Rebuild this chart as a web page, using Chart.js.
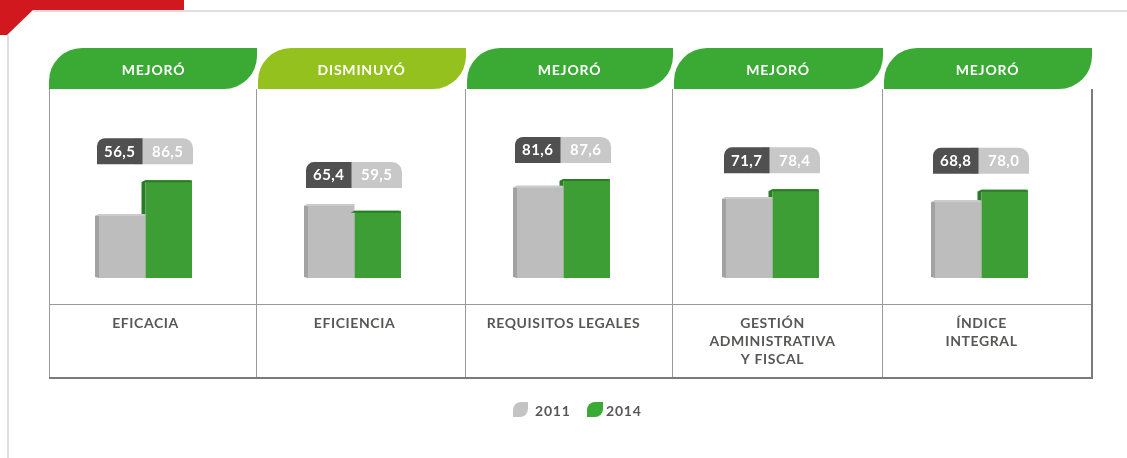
<!DOCTYPE html>
<html>
<head>
<meta charset="utf-8">
<script src="https://cdn.jsdelivr.net/npm/chart.js@4"></script>
<style>
  html, body { margin: 0; padding: 0; background: #fff; }
  #wrap { width: 1127px; height: 458px; }
</style>
</head>
<body>
<div id="wrap"><canvas id="indicadores" width="1127" height="458"></canvas></div>
<script>
// data
const categories = [['EFICACIA'], ['EFICIENCIA'], ['REQUISITOS LEGALES'], ['GESTIÓN', 'ADMINISTRATIVA', 'Y FISCAL'], ['ÍNDICE', 'INTEGRAL']];
const years = ['2011', '2014'];
const values2011 = [56.5, 65.4, 81.6, 71.7, 68.8];
const values2014 = [86.5, 59.5, 87.6, 78.4, 78.0];
const status = ['MEJORÓ', 'DISMINUYÓ', 'MEJORÓ', 'MEJORÓ', 'MEJORÓ'];

// colours
const grayFace = '#bdbdbd', graySide = '#a2a2a2', grayTop = '#cbcbcb';
const greenFace = '#3c9e35', greenSide = '#2a7b25';
const tabGreen = '#3aaa35', tabLime = '#95c11f';
const textGray = '#575756';
const FONT = 'Lato, "Open Sans", sans-serif';

// panel edges of the table frame (decoration)
const edges = [49, 256, 465, 672, 882, 1091];

function fmt(v) { return v.toFixed(1).replace('.', ','); }

// leaf shape: rounded top-left and bottom-right
function leaf(ctx, x, y, w, h, r) {
  ctx.beginPath();
  ctx.moveTo(x, y + h);
  ctx.lineTo(x, y + r);
  ctx.ellipse(x + r, y + r, r, r, 0, Math.PI, Math.PI * 1.5);
  ctx.lineTo(x + w, y);
  ctx.lineTo(x + w, y + h - r);
  ctx.ellipse(x + w - r, y + h - r, r, r, 0, 0, Math.PI * 0.5);
  ctx.closePath();
}

const decoPlugin = {
  id: 'deco',
  beforeDraw(chart) {
    const ctx = chart.ctx;
    ctx.save();
    ctx.fillStyle = '#fff';
    ctx.fillRect(0, 0, chart.width, chart.height);

    // red corner + page frame
    ctx.fillStyle = '#d2181f';
    ctx.beginPath();
    ctx.moveTo(0, 0); ctx.lineTo(184, 0); ctx.lineTo(184, 10);
    ctx.lineTo(33, 10); ctx.lineTo(7, 35); ctx.lineTo(0, 35);
    ctx.closePath(); ctx.fill();
    ctx.fillStyle = '#dedede';
    ctx.fillRect(33, 10, chart.width - 33, 2);
    ctx.fillRect(7, 35, 2, chart.height - 35);

    // table lines
    ctx.fillStyle = '#9a9a9a';
    for (let i = 0; i < edges.length - 1; i++) {
      ctx.fillRect(edges[i], 89, 1, 289);
    }
    ctx.fillRect(edges[0], 304, edges[5] - edges[0], 1);
    ctx.fillStyle = '#7a7a7a';
    ctx.fillRect(edges[0], 377, edges[5] - edges[0] + 2, 2);
    ctx.fillRect(edges[5], 89, 2, 290);

    // header tabs
    ctx.font = 'bold 14px ' + FONT;
    ctx.letterSpacing = '0.8px';
    ctx.textAlign = 'center';
    ctx.textBaseline = 'middle';
    for (let i = 0; i < status.length; i++) {
      const x0 = edges[i] + (i ? 2 : 0), x1 = edges[i + 1] + 1;
      ctx.fillStyle = status[i] === 'MEJORÓ' ? tabGreen : tabLime;
      leaf(ctx, x0, 48, x1 - x0, 41, 33);
      ctx.fill();
      ctx.fillStyle = '#fff';
      ctx.fillText(status[i], (edges[i] + edges[i + 1]) / 2 + 1, 70);
    }

    // legend
    ctx.textAlign = 'left';
    ctx.fillStyle = '#c4c4c4';
    leaf(ctx, 513, 402, 15, 15, 8); ctx.fill();
    ctx.fillStyle = tabGreen;
    leaf(ctx, 587, 402, 16, 15, 8); ctx.fill();
    ctx.fillStyle = textGray;
    ctx.fillText(years[0], 535, 411);
    ctx.fillText(years[1], 606, 411);
    ctx.restore();
    // tick labels inherit the spacing
    ctx.letterSpacing = '0.6px';
  },
  beforeDatasetsDraw(chart) {
    // green side faces go under the gray bars
    const ctx = chart.ctx;
    ctx.save();
    chart.getDatasetMeta(1).data.forEach(b => {
      const l = b.x - b.width / 2;
      ctx.fillStyle = greenSide;
      ctx.beginPath();
      ctx.moveTo(l - 4, b.y + 2); ctx.lineTo(l, b.y);
      ctx.lineTo(l, b.base); ctx.lineTo(l - 4, b.base - 1);
      ctx.closePath(); ctx.fill();
    });
    ctx.restore();
  },
  afterDatasetsDraw(chart) {
    const ctx = chart.ctx;
    ctx.save();
    const g = chart.getDatasetMeta(0).data, v = chart.getDatasetMeta(1).data;
    g.forEach(b => {
      const l = b.x - b.width / 2, r = b.x + b.width / 2;
      ctx.fillStyle = graySide;
      ctx.beginPath();
      ctx.moveTo(l - 4, b.y + 2); ctx.lineTo(l, b.y);
      ctx.lineTo(l, b.base); ctx.lineTo(l - 4, b.base - 1);
      ctx.closePath(); ctx.fill();
      ctx.fillStyle = grayTop;
      ctx.beginPath();
      ctx.moveTo(l - 4, b.y + 2); ctx.lineTo(l, b.y); ctx.lineTo(r - 2, b.y);
      ctx.lineTo(r, b.y + 2); ctx.closePath(); ctx.fill();
    });
    v.forEach(b => {
      const l = b.x - b.width / 2, r = b.x + b.width / 2;
      ctx.fillStyle = greenSide;
      ctx.beginPath();
      ctx.moveTo(l - 4, b.y + 2); ctx.lineTo(l, b.y); ctx.lineTo(r - 2, b.y);
      ctx.lineTo(r, b.y + 2); ctx.closePath(); ctx.fill();
    });

    // value badges
    ctx.font = 'bold 15px ' + FONT;
    ctx.letterSpacing = '0.5px';
    ctx.textAlign = 'center';
    ctx.textBaseline = 'middle';
    for (let i = 0; i < g.length; i++) {
      const a = g[i], b = v[i];
      const left = a.x - a.width / 2 - 2, mid = a.x + a.width / 2 - 3, right = b.x + b.width / 2 + 1;
      const bottom = Math.min(a.y, b.y) - 16, top = bottom - 26;
      ctx.fillStyle = '#c8c8c8';
      ctx.beginPath();
      ctx.roundRect(mid - 8, top, right - mid + 8, 26, [0, 10, 0, 0]);
      ctx.fill();
      ctx.fillStyle = '#505050';
      ctx.beginPath();
      ctx.roundRect(left, top, mid - left, 26, [8, 0, 0, 0]);
      ctx.fill();
      ctx.fillStyle = '#fff';
      ctx.fillText(fmt(values2011[i]), (left + mid) / 2, top + 13.5);
      ctx.fillText(fmt(values2014[i]), (mid + right) / 2, top + 13.5);
    }
    ctx.restore();
  },
  afterDraw(chart) {
    chart.ctx.letterSpacing = '0px';
  }
};

new Chart(document.getElementById('indicadores'), {
  type: 'bar',
  data: {
    labels: categories,
    datasets: [
      { label: years[0], data: values2011, backgroundColor: grayFace },
      { label: years[1], data: values2014, backgroundColor: greenFace }
    ]
  },
  options: {
    responsive: false,
    animation: false,
    layout: { padding: { left: 41, right: 41, top: 88, bottom: 0 } },
    datasets: { bar: { barPercentage: 1, categoryPercentage: 0.445, borderWidth: 0 } },
    plugins: { legend: { display: false }, tooltip: { enabled: false } },
    scales: {
      y: { display: false, min: 0, max: 168 },
      x: {
        grid: { display: false },
        border: { display: false },
        afterFit(scale) { scale.height = 180; },
        ticks: {
          padding: 28,
          autoSkip: false,
          maxRotation: 0,
          color: textGray,
          font: { family: FONT, size: 14, weight: 'bold', lineHeight: '18px' }
        }
      }
    }
  },
  plugins: [decoPlugin]
});
</script>
</body>
</html>
